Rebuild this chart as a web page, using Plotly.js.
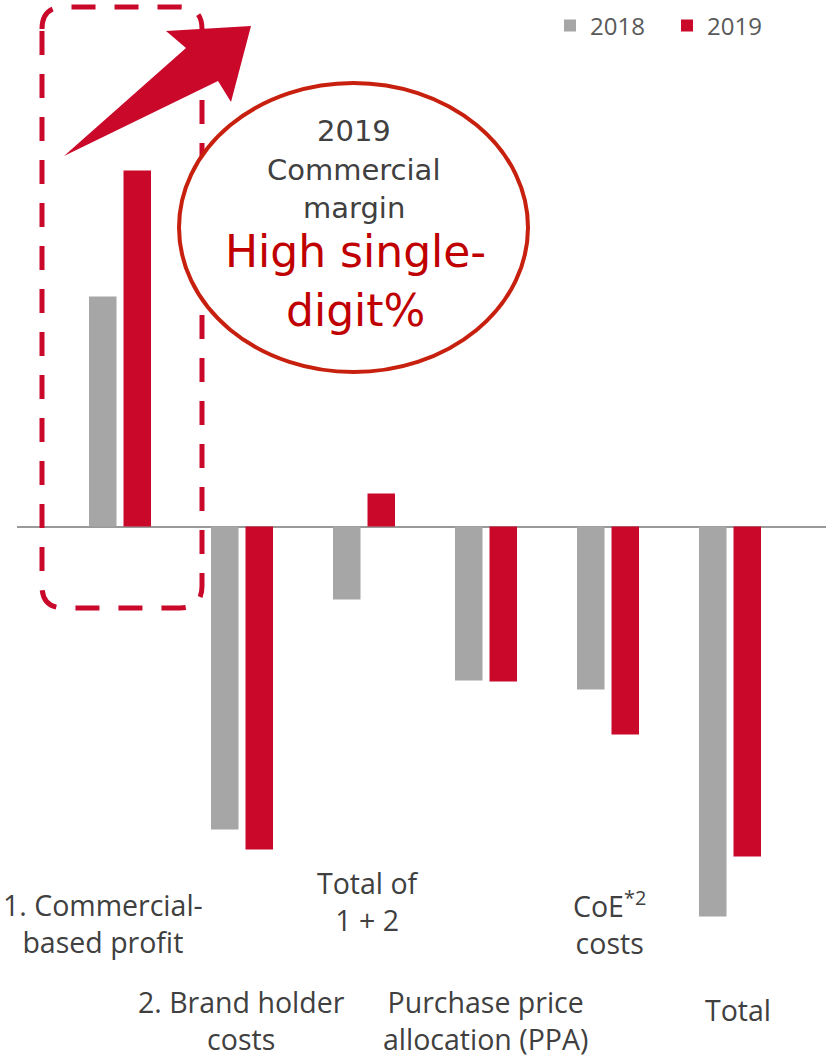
<!DOCTYPE html>
<html><head><meta charset="utf-8">
<script src="https://cdn.plot.ly/plotly-3.0.1.min.js"></script>
<style>html,body{margin:0;padding:0;background:#fff;overflow:hidden}</style>
</head><body><div id="chart" style="width:826px;height:1059px"></div>
<script>
// ---- data ----
const categories = ["1. Commercial-based profit", "2. Brand holder costs", "Total of 1 + 2",
  "Purchase price allocation (PPA)", "CoE*2 costs", "Total"];
const categoryLabels = ["1. Commercial-<br>based profit", "2. Brand holder<br>costs", "Total of<br>1 + 2",
  "Purchase price<br>allocation (PPA)", "CoE<sup>*2</sup><br>costs", "Total"];
const seriesNames = ["2018", "2019"];
const values2018 = [23.0, -30.3, -7.3, -15.4, -16.3, -39.0];
const values2019 = [35.6, -32.3, 3.3, -15.5, -20.8, -33.0];
const calloutLines = ["2019", "Commercial", "margin"];
const calloutHighlight = ["High single-", "digit%"];

// ---- layout helpers (pixel -> paper) ----
const W = 826, H = 1059, ML = 17;
const px = v => (v - ML) / (W - ML);
const py = v => 1 - v / H;

const GRAY = "#a6a6a6", RED = "#c9082a", TXT = "#404040";
const FONT = "Open Sans, Noto Sans, sans-serif";
const CFONT = "DejaVu Sans, Open Sans, sans-serif";

const traces = [
  {type: "bar", name: seriesNames[0], x: categories, y: values2018,
   marker: {color: GRAY, line: {width: 0}}, hoverinfo: "x+y"},
  {type: "bar", name: seriesNames[1], x: categories, y: values2019,
   marker: {color: RED, line: {width: 0}}, hoverinfo: "x+y"}
];

// category label positions: [centre x px, y px, yanchor]
const labelPos = [[103, 923, "middle"], [241, 1059, "bottom"], [368, 901, "middle"],
  [485, 1059, "bottom"], [609, 923, "middle"], [738, 1010, "middle"]];
const annotations = categoryLabels.map((t, i) => ({
  text: t, xref: "paper", yref: "paper", x: px(labelPos[i][0]), y: py(labelPos[i][1]),
  xanchor: "center", yanchor: labelPos[i][2], showarrow: false, align: "center", borderpad: 0,
  font: {family: FONT, size: 28.5, color: TXT}
}));
const calloutY = [130.5, 169.5, 207.5];
calloutLines.forEach((t, i) => annotations.push({
  text: t, xref: "paper", yref: "paper", x: px(353.5), y: py(calloutY[i]),
  xanchor: "center", yanchor: "middle", showarrow: false, borderpad: 0,
  font: {family: CFONT, size: 29, color: TXT}
}));
const hiY = [252, 310];
calloutHighlight.forEach((t, i) => annotations.push({
  text: t, xref: "paper", yref: "paper", x: px(355.5), y: py(hiY[i]),
  xanchor: "center", yanchor: "middle", showarrow: false, borderpad: 0,
  font: {family: CFONT, size: 44, color: "#c00000"}
}));

// dashed rounded rectangle
const rL = 42, rR = 202, rT = 7, rB = 608, rr = 22;
const P = (x, y) => px(x) + "," + py(y);
const rectPath = "M" + P(rL, rT + rr) + " Q" + P(rL, rT) + " " + P(rL + rr, rT) +
  " L" + P(rR - rr, rT) + " Q" + P(rR, rT) + " " + P(rR, rT + rr) +
  " L" + P(rR, rB - rr) + " Q" + P(rR, rB) + " " + P(rR - rr, rB) +
  " L" + P(rL + rr, rB) + " Q" + P(rL, rB) + " " + P(rL, rB - rr) + " Z";
const arrowPts = [[64, 156], [186, 48], [166, 31], [251, 26], [231, 102], [218, 81]];
const arrowPath = "M" + arrowPts.map(p => P(p[0], p[1])).join(" L") + " Z";

const shapes = [
  {type: "path", xref: "paper", yref: "paper", path: rectPath, layer: "above",
   line: {color: RED, width: 5, dash: "24px,19px"}, fillcolor: "rgba(0,0,0,0)"},
  {type: "circle", xref: "paper", yref: "paper", layer: "above",
   x0: px(179), x1: px(528), y0: py(372), y1: py(83),
   fillcolor: "#ffffff", line: {color: "#c8200e", width: 4}},
  {type: "path", xref: "paper", yref: "paper", path: arrowPath, layer: "above",
   fillcolor: RED, line: {width: 0}}
];

const layout = {
  width: W, height: H, margin: {l: ML, r: 0, t: 0, b: 0},
  paper_bgcolor: "#fff", plot_bgcolor: "#fff",
  barmode: "group", bargap: 0.4344, bargroupgap: 0.203,
  font: {family: FONT, color: TXT},
  xaxis: {type: "category", range: [(ML - 120) / 122, (W - 120) / 122],
    showticklabels: false, showgrid: false, zeroline: false, showline: false, ticks: ""},
  yaxis: {range: [(526.5 - H) / 10, 526.5 / 10], showticklabels: false, showgrid: false,
    zeroline: true, zerolinecolor: "#999999", zerolinewidth: 2, showline: false, ticks: ""},
  showlegend: true,
  legend: {orientation: "h", x: px(550), y: py(26), xanchor: "left", yanchor: "middle",
    font: {family: FONT, size: 24, color: "#595959"}, bgcolor: "rgba(0,0,0,0)",
    itemwidth: 30, traceorder: "normal", entrywidth: 72, entrywidthmode: "pixels"},
  annotations: annotations,
  shapes: shapes
};

Plotly.newPlot("chart", traces, layout, {displayModeBar: false, staticPlot: true});
</script>
</body></html>
